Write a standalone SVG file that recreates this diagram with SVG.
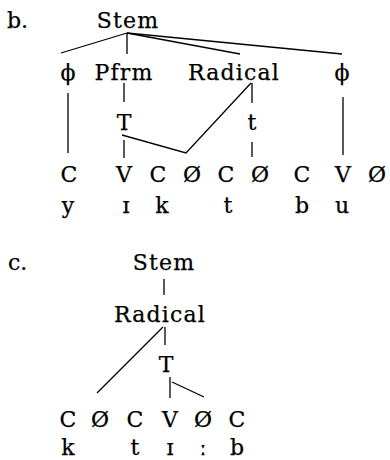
<svg xmlns="http://www.w3.org/2000/svg" width="390" height="460" viewBox="0 0 390 460">
<style>
text{font-family:"DejaVu Serif","Liberation Serif",serif;font-size:22px;fill:#000;text-anchor:middle;stroke:#000;stroke-width:0.25}
text.lab{text-anchor:start}
text.w{letter-spacing:1.2px}
.c line,.c polyline{stroke:#000;stroke-width:1.3;fill:none}
</style>
<rect width="390" height="460" fill="#fff"/>
<g id="tree-b">
<text class="lab" x="7" y="28">b.</text>
<g id="b-stem"><text class="w" x="128" y="28">Stem</text></g>
<g id="b-phi1"><text x="68" y="80">ϕ</text></g>
<g id="b-pfrm"><text class="w" x="124" y="80">Pfrm</text></g>
<g id="b-radical"><text class="w" x="234" y="80">Radical</text></g>
<g id="b-phi2"><text x="342" y="80">ϕ</text></g>
<g id="b-T"><text x="124" y="130">T</text></g>
<g id="b-t"><text x="252" y="130">t</text></g>
<g id="b-row1">
<text x="69" y="182">C</text><text x="124" y="182">V</text><text x="158" y="182">C</text><text x="192" y="182">Ø</text><text x="226" y="182">C</text><text x="260" y="182">Ø</text><text x="302" y="182">C</text><text x="343" y="182">V</text><text x="377" y="182">Ø</text>
</g>
<g id="b-row2">
<text x="68" y="213">y</text><text x="126" y="213">ɪ</text><text x="162" y="213">k</text><text x="228" y="213">t</text><text x="302" y="213">b</text><text x="342" y="213">u</text>
</g>
</g>
<g id="tree-c">
<text class="lab" x="8" y="270">c.</text>
<g id="c-stem"><text class="w" x="164" y="270">Stem</text></g>
<g id="c-radical"><text class="w" x="160" y="322">Radical</text></g>
<g id="c-T"><text x="166" y="372">T</text></g>
<g id="c-row1">
<text x="68" y="427">C</text><text x="100" y="427">Ø</text><text x="135" y="427">C</text><text x="170" y="427">V</text><text x="203" y="427">Ø</text><text x="237" y="427">C</text>
</g>
<g id="c-row2">
<text x="68" y="455">k</text><text x="135" y="455">t</text><text x="170" y="455">ɪ</text><text x="203" y="455">ː</text><text x="237" y="455">b</text>
</g>
</g>
<g id="connectors" class="c">
<line x1="127" y1="33" x2="61" y2="53"/>
<line x1="127" y1="33" x2="127" y2="54"/>
<line x1="127" y1="33" x2="240" y2="54"/>
<line x1="127" y1="33" x2="342" y2="54"/>
<line x1="68" y1="93" x2="68" y2="153"/>
<line x1="124" y1="83" x2="124" y2="102"/>
<line x1="124" y1="140" x2="124" y2="158"/>
<polyline points="122,135 186,153 251,83"/>
<line x1="252" y1="83" x2="252" y2="103"/>
<line x1="252" y1="142" x2="252" y2="157"/>
<line x1="343" y1="97" x2="343" y2="155"/>
<line x1="164" y1="279" x2="164" y2="295"/>
<line x1="165" y1="327" x2="165" y2="345"/>
<line x1="163" y1="327" x2="97" y2="393"/>
<line x1="170" y1="377" x2="170" y2="398"/>
<line x1="172" y1="382" x2="204" y2="397"/>
</g>
</svg>
